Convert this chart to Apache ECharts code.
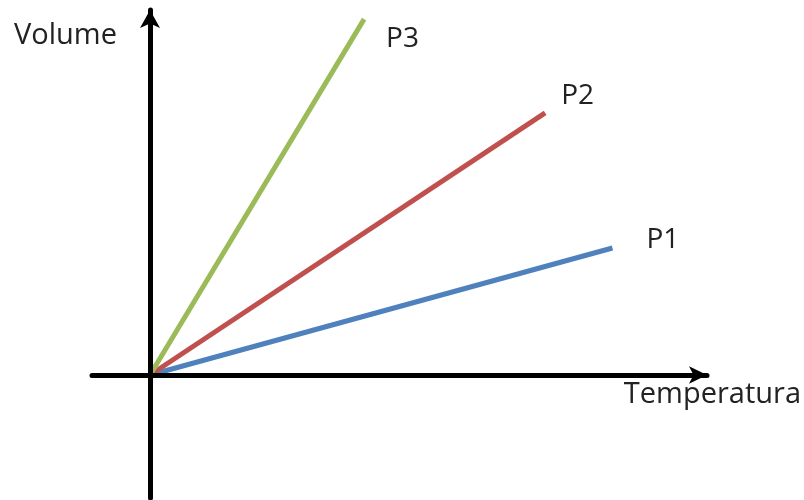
<!DOCTYPE html>
<html>
<head>
<meta charset="utf-8">
<script src="https://cdn.jsdelivr.net/npm/echarts@6/dist/echarts.min.js"></script>
<style>
  html, body { margin: 0; padding: 0; background: #fff; }
  #chart { width: 804px; height: 500px; }
</style>
</head>
<body>
<div id="chart"></div>
<script>
var seriesNames = ['P1', 'P2', 'P3'];
var seriesColors = ['#4f81bd', '#c0504d', '#9bbb59'];
// end point of each line (start is the origin)
var endTemp = [7.97, 6.81, 3.69];
var endVolume = [3.48, 7.18, 9.75];
var xName = 'Temperatura';
var yName = 'Volume';

var labelOffsets = [[26, -8], [8, -17], [14, 20]];

var chart = echarts.init(document.getElementById('chart'));

var series = seriesNames.map(function (name, i) {
    return {
        name: name,
        type: 'line',
        data: [[0, 0], [endTemp[i], endVolume[i]]],
        symbol: 'none',
        z: 1,
        lineStyle: { color: seriesColors[i], width: 5 },
        endLabel: {
            show: true,
            formatter: name,
            offset: labelOffsets[i],
            fontFamily: 'Open Sans',
            fontSize: 28,
            color: '#222'
        }
    };
});

var option = {
    animation: false,
    grid: { left: 92, right: 97, top: 10, bottom: 2 },
    xAxis: {
        type: 'value',
        min: -1,
        max: 9.6,
        splitLine: { show: false },
        axisTick: { show: false },
        axisLabel: { show: false },
        axisLine: {
            onZero: true,
            lineStyle: { color: '#000', width: 5 },
            symbol: ['none', 'arrow'],
            symbolSize: [13, 18]
        },
        z: 5
    },
    yAxis: {
        type: 'value',
        min: -3.37,
        max: 10,
        splitLine: { show: false },
        axisTick: { show: false },
        axisLabel: { show: false },
        axisLine: {
            onZero: true,
            lineStyle: { color: '#000', width: 5 },
            symbol: ['none', 'arrow'],
            symbolSize: [15, 18]
        },
        z: 5
    },
    graphic: [
        {
            type: 'text', left: 14, top: 21,
            style: { text: yName, font: '29px "Open Sans"', fill: '#222' }
        },
        {
            type: 'text', right: 3, top: 380,
            style: { text: xName, font: '29px "Open Sans"', fill: '#222' }
        }
    ],
    series: series
};
chart.setOption(option);
</script>
</body>
</html>
